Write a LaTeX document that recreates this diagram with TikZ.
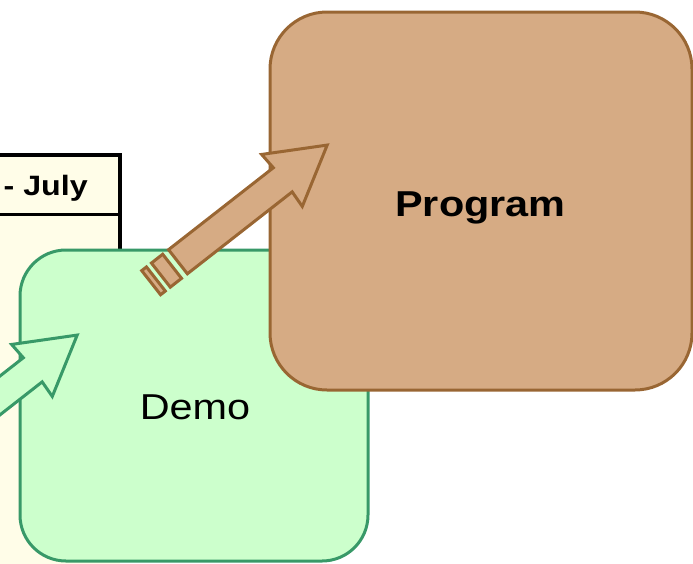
\documentclass[tikz,border=0pt]{standalone}
\usepackage{fontspec}
\setmainfont{Liberation Sans}
\newfontfamily\labfont[FakeStretch=1.15]{Liberation Sans}
\definecolor{demofill}{RGB}{204,255,204}
\definecolor{demoline}{RGB}{56,153,104}
\definecolor{progfill}{RGB}{214,171,132}
\definecolor{progline}{RGB}{153,102,51}
\definecolor{tablefill}{RGB}{255,253,232}
\tikzset{
  demobox/.style={draw=demoline, fill=demofill, line width=3pt, rounded corners=46pt, inner sep=0pt},
  progbox/.style={draw=progline, fill=progfill, line width=3pt, rounded corners=57pt, inner sep=0pt},
  demotext/.style={anchor=base, inner sep=0pt, font=\labfont\fontsize{36}{42}\selectfont},
  progtext/.style={anchor=base, inner sep=0pt, font=\labfont\bfseries\fontsize{36}{42}\selectfont},
  tablefillst/.style={fill=tablefill},
  tableline/.style={draw=black, line width=4pt},
  progarrow/.style={draw=progline, fill=progfill, line width=3pt, line join=miter},
  demoarrow/.style={draw=demoline, fill=demofill, line width=3pt, line join=miter},
}
\begin{document}
\begin{tikzpicture}[x=1pt,y=-1pt]
\useasboundingbox (0,0) rectangle (693,563);
\clip (0,0) rectangle (693,563);
% table (cut off at left and bottom)
\fill[tablefillst] (-30,155) rectangle (120,600);
\draw[tableline] (-30,155) -- (120,155) -- (120,540);
\draw[black, line width=3pt] (-30,214) -- (120,214);
\node[anchor=base east, inner sep=0pt, font=\labfont\bfseries\fontsize{28}{32}\selectfont] (july) at (88,195) {- July};
% demo box
\node[demobox, minimum width=348pt, minimum height=311pt] (demo) at (194,405.5) {};
\node[demotext] (demolabel) at (195,419) {Demo};
% green arrow
\begin{scope}[shift={(-55.5,438.8)}, x={(0.788pt,0.616pt)}, y={(0.616pt,-0.788pt)}]
  \draw[demoarrow] (-120,-15.3) -- (112,-15.3) -- (111,-33) -- (168.4,0) -- (111,33) -- (112,15.3) -- (-120,15.3) -- cycle;
\end{scope}
% program box
\node[progbox, minimum width=422pt, minimum height=378pt] (prog) at (481,201) {};
\node[progtext] (proglabel) at (480.5,216.7) {Program};
% brown arrow with broken tail
\begin{scope}[shift={(194.5,248.8)}, x={(0.788pt,0.616pt)}, y={(0.616pt,-0.788pt)}]
  \draw[progarrow] (-21,-15.3) -- (112,-15.3) -- (111,-33) -- (168.4,0) -- (111,33) -- (112,15.3) -- (-21,15.3) -- cycle;
  \draw[progarrow] (-42.7,-15.3) -- (-28.4,-15.3) -- (-28.4,15.3) -- (-42.7,15.3) -- cycle;
  \draw[progarrow] (-55,-15.3) -- (-49,-15.3) -- (-49,15.3) -- (-55,15.3) -- cycle;
\end{scope}
\end{tikzpicture}
\end{document}
